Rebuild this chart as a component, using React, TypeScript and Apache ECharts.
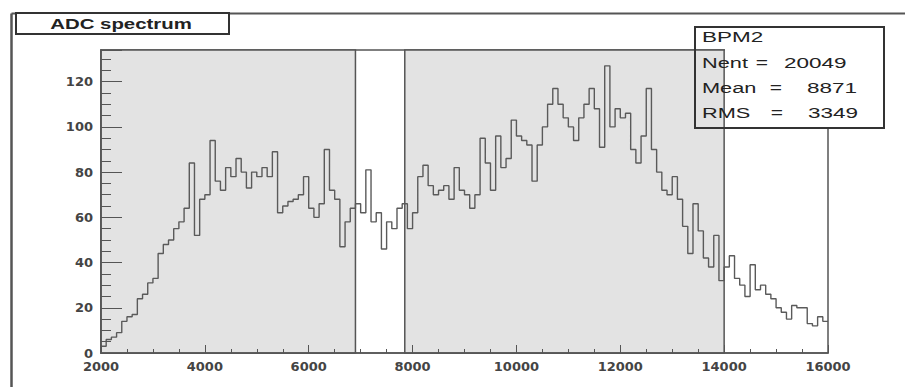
import React, { useEffect, useRef } from "react";
import * as echarts from "echarts";

// Histogram: first bin edge, bin width and bin contents
const binStart = 2000;
const binWidth = 100;
const counts = [
  3, 6, 7, 9, 14, 16, 17, 24, 26, 31,
  33, 44, 48, 50, 55, 58, 64, 84, 52, 68,
  70, 94, 76, 72, 82, 78, 86, 80, 73, 80,
  78, 82, 78, 89, 62, 65, 67, 68, 70, 78,
  64, 60, 66, 90, 72, 68, 47, 58, 64, 66,
  62, 81, 58, 62, 46, 58, 55, 64, 66, 55,
  62, 78, 83, 74, 70, 72, 74, 68, 82, 72,
  70, 64, 70, 95, 84, 72, 96, 82, 86, 103,
  96, 94, 92, 76, 92, 100, 110, 117, 110, 104,
  100, 94, 104, 110, 117, 108, 91, 127, 100, 108,
  104, 106, 90, 84, 96, 117, 90, 80, 72, 70,
  78, 68, 56, 44, 66, 54, 42, 38, 52, 32,
  38, 43, 33, 30, 25, 39, 28, 30, 26, 24,
  20, 18, 15, 21, 20, 20, 13, 12, 16, 14,
];

// Shaded x ranges
const shadedRanges: [number, number][] = [
  [2000, 6900],
  [7850, 14000],
];

// Axis ranges
const xMin = 2000;
const xMax = 16000;
const xStep = 2000;
const yMin = 0;
const yMax = 134;
const yStep = 20;

// Texts
const histTitle = "ADC spectrum";
const statsName = "BPM2";
const statsLabels = ["Nent", "Mean", "RMS"];
const statsValues = ["20049", "8871", "3349"];

export default function App() {
  const ref = useRef<HTMLDivElement>(null);

  useEffect(() => {
    if (!ref.current) return;
    const chart = echarts.init(ref.current, null, { renderer: "svg" });

    const pts: number[][] = counts.map((c, i) => [binStart + i * binWidth, c]);
    pts.push([binStart + counts.length * binWidth, counts[counts.length - 1]]);

    const statFont = "15px 'Liberation Sans', Arial, sans-serif";
    const txt = (x: number, y: number, text: string, align: string, sx: number, font: string) => ({
      type: "text",
      x,
      y,
      z: 120,
      scaleX: sx,
      style: { text, font, fill: "#222", align, verticalAlign: "middle" },
    });

    const eqX = [762, 776, 777];
    const valX = [784, 807, 808];
    const rowY = [63, 88, 113];

    const statsTexts: any[] = [txt(702, 37, statsName, "left", 1.5, statFont)];
    statsLabels.forEach((lab, i) => {
      statsTexts.push(txt(702, rowY[i], lab, "left", 1.45, statFont));
      statsTexts.push(txt(eqX[i], rowY[i], "=", "center", 1.4, statFont));
      statsTexts.push(txt(valX[i], rowY[i], statsValues[i], "left", 1.5, statFont));
    });

    const axisLabelStyle = {
      fontFamily: "'DejaVu Sans', sans-serif",
      fontSize: 13,
      fontWeight: "bold" as const,
      color: "#444",
      formatter: (v: number) => String(v),
    };

    chart.setOption({
      animation: false,
      grid: {
        left: 101,
        right: 77,
        top: 50,
        bottom: 34,
        show: true,
        borderColor: "#555",
        borderWidth: 1.5,
        backgroundColor: "transparent",
      },
      xAxis: {
        type: "value",
        z: 10,
        min: xMin,
        max: xMax,
        interval: xStep,
        axisLine: { show: true, onZero: false, lineStyle: { color: "#555", width: 1.5 } },
        axisTick: { show: true, inside: true, length: 8, lineStyle: { color: "#555" } },
        minorTick: { show: true, splitNumber: 4, length: 4, lineStyle: { color: "#555" } },
        splitLine: { show: false },
        axisLabel: { margin: 7, ...axisLabelStyle },
      },
      yAxis: {
        type: "value",
        z: 10,
        min: yMin,
        max: yMax,
        interval: yStep,
        axisLine: { show: true, onZero: false, lineStyle: { color: "#555", width: 1.5 } },
        axisTick: { show: true, inside: true, length: 21, lineStyle: { color: "#555" } },
        minorTick: { show: true, splitNumber: 4, length: 10, lineStyle: { color: "#555" } },
        splitLine: { show: false },
        axisLabel: { margin: 8, showMaxLabel: false, ...axisLabelStyle },
      },
      series: [
        {
          type: "line",
          step: "end",
          data: pts,
          symbol: "none",
          z: 2,
          lineStyle: { color: "#5a5a5a", width: 1.4 },
          markArea: {
            silent: true,
            itemStyle: { color: "#e3e3e3", borderColor: "#555", borderWidth: 1.5 },
            data: shadedRanges.map(([a, b]) => [{ xAxis: a }, { xAxis: b }]),
          },
        },
      ],
      graphic: [
        {
          type: "line",
          z: 100,
          shape: { x1: 11.5, y1: 13.5, x2: 11.5, y2: 387 },
          style: { stroke: "#555", lineWidth: 2.5 },
        },
        {
          type: "line",
          z: 100,
          shape: { x1: 11.5, y1: 13.5, x2: 905, y2: 13.5 },
          style: { stroke: "#555", lineWidth: 2 },
        },
        {
          type: "rect",
          z: 101,
          shape: { x: 16, y: 13, width: 213, height: 21 },
          style: { fill: "#fff", stroke: "#333", lineWidth: 2 },
        },
        txt(121, 24, histTitle, "center", 1.36, "bold 15px 'Liberation Sans', Arial, sans-serif"),
        {
          type: "rect",
          z: 101,
          shape: { x: 725, y: 27, width: 159, height: 101 },
          style: { fill: "#fff", stroke: "none" },
        },
        {
          type: "rect",
          z: 102,
          shape: { x: 695, y: 27, width: 189, height: 101 },
          style: { fill: "none", stroke: "#333", lineWidth: 2 },
        },
        ...statsTexts,
      ],
    });

    return () => chart.dispose();
  }, []);

  return (
    <div
      ref={ref}
      style={{ position: "absolute", left: 0, top: 0, width: 905, height: 387, background: "#fff" }}
    />
  );
}
